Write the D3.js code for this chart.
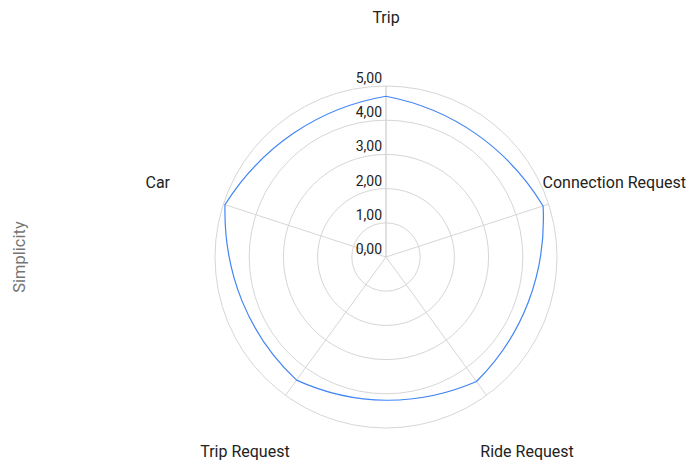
<!DOCTYPE html>
<html>
<head>
<meta charset="utf-8">
<script src="https://cdn.jsdelivr.net/npm/d3@7"></script>
<style>
    body { margin: 0; background: #fff; }
    text { font-family: Roboto, "Noto Sans", sans-serif; }
</style>
</head>
<body>
<div id="chart"></div>
<script>
const categories = ['Trip', 'Connection Request', 'Ride Request', 'Trip Request', 'Car'];
const simplicity = [4.7, 4.83, 4.5, 4.45, 4.95];
const tickValues = [0, 1, 2, 3, 4, 5];
const axisTitle = 'Simplicity';

const width = 686;
const height = 461;
const cx = 386, cy = 257;
const outer = 171;

const svg = d3.select('#chart')
    .append('svg')
    .attr('width', width)
    .attr('height', height);

const g = svg.append('g')
    .attr('transform', `translate(${cx},${cy})`);

const r = d3.scaleLinear()
    .domain([0, 5])
    .range([0, outer]);

const angle = d3.scaleLinear()
    .domain([0, categories.length])
    .range([0, 2 * Math.PI]);

const fmt = d => d.toFixed(2).replace('.', ',');

// Grid circles
g.selectAll('.grid')
    .data(tickValues.filter(d => d > 0))
    .enter()
    .append('circle')
    .attr('class', 'grid')
    .attr('r', d => r(d))
    .attr('fill', 'none')
    .attr('stroke', '#d6d6d6')
    .attr('stroke-width', 1);

// Spokes
g.selectAll('.spoke')
    .data(categories)
    .enter()
    .append('line')
    .attr('class', 'spoke')
    .attr('x1', 0)
    .attr('y1', 0)
    .attr('x2', (d, i) => r(5) * Math.sin(angle(i)))
    .attr('y2', (d, i) => -r(5) * Math.cos(angle(i)))
    .attr('stroke', '#d6d6d6')
    .attr('stroke-width', (d, i) => i === 0 ? 1.5 : 1);

// Series line, each segment bent along the polar path
const pt = (a, v) => [r(v) * Math.sin(a), -r(v) * Math.cos(a)];
const path = d3.path();
simplicity.forEach((v, i) => {
    const j = (i + 1) % simplicity.length;
    const a0 = angle(i), a1 = angle(i + 1);
    const v1 = simplicity[j];
    const p0 = pt(a0, v);
    if (i === 0) path.moveTo(p0[0], p0[1]);
    const c1 = pt(a0 + (a1 - a0) / 3, v + (v1 - v) / 3);
    const c2 = pt(a0 + 2 * (a1 - a0) / 3, v + 2 * (v1 - v) / 3);
    const p1 = pt(a1, v1);
    path.bezierCurveTo(c1[0], c1[1], c2[0], c2[1], p1[0], p1[1]);
});
path.closePath();

g.append('path')
    .attr('d', path.toString())
    .attr('fill', 'none')
    .attr('stroke', '#4285f4')
    .attr('stroke-width', 1.2);

// Tick labels
g.selectAll('.tick-label')
    .data(tickValues)
    .enter()
    .append('text')
    .attr('class', 'tick-label')
    .attr('x', -4)
    .attr('y', d => -r(d) - 3)
    .attr('text-anchor', 'end')
    .style('font-size', '14px')
    .attr('fill', '#222')
    .text(fmt);

// Category labels
g.selectAll('.cat-label')
    .data(categories)
    .enter()
    .append('text')
    .attr('class', 'cat-label')
    .attr('x', (d, i) => 240 * Math.sin(angle(i)))
    .attr('y', (d, i) => -240 * Math.cos(angle(i)))
    .attr('text-anchor', 'middle')
    .attr('dominant-baseline', 'central')
    .style('font-size', '16px')
    .attr('fill', '#222')
    .text(d => d);

// Axis title
svg.append('text')
    .attr('transform', `translate(25,${cy}) rotate(-90)`)
    .attr('text-anchor', 'middle')
    .style('font-size', '16.5px')
    .attr('fill', '#757575')
    .text(axisTitle);
</script>
</body>
</html>
